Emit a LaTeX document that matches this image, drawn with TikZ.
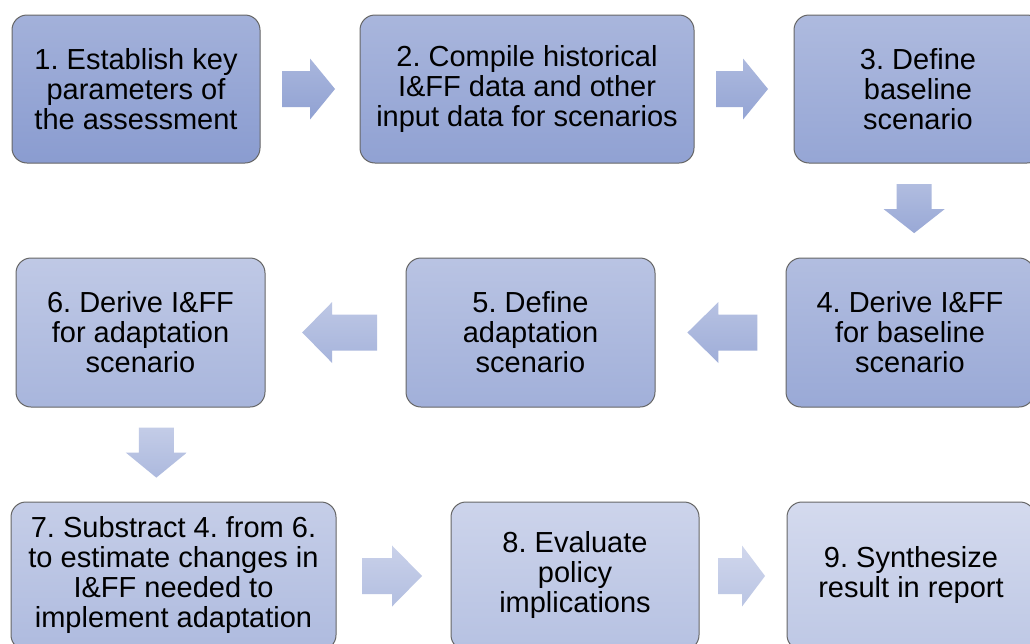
\documentclass[tikz,border=0pt]{standalone}
\usepackage{fontspec}
\setmainfont{Liberation Sans}
\frenchspacing
\usetikzlibrary{calc}

% gradient end points: darkest step (first) and lightest step (last)
\definecolor{darkTop}{HTML}{A3B1DA}
\definecolor{darkBot}{HTML}{8A9CD0}
\definecolor{lightTop}{HTML}{D4DAEE}
\definecolor{lightBot}{HTML}{BEC8E5}
\definecolor{boxline}{HTML}{666666}

\tikzset{
  x=1pt, y=-1pt,
  shadelevel/.style={top color=darkTop!#1!lightTop, bottom color=darkBot!#1!lightBot},
  steptext/.style={align=center, inner sep=0pt, font=\fontsize{29}{30}\selectfont},
  stepbox/.style={shadelevel=#1, draw=boxline, line width=1pt, rounded corners=15pt,
    steptext, minimum height=148pt},
  arrowfill/.style={shadelevel=#1, draw=none},
}

% horizontal block arrow between two anchors: from, to, fraction, direction (+1/-1), length, head length, shade
\newcommand\harrow[7]{%
  \path[arrowfill=#7] ($(#1)!#3!(#2)$) ++({-0.5*(#4)*(#5)},-18)
    -- ++({(#4)*((#5)-(#6))},0) -- ++(0,-12.5) -- ++({(#4)*(#6)},30.5)
    -- ++({-(#4)*(#6)},30.5) -- ++(0,-12.5) -- ++({-(#4)*((#5)-(#6))},0) -- cycle;
}
% downward block arrow between two anchors: from, to, fraction, length, head length, shade
\newcommand\varrow[6]{%
  \path[arrowfill=#6] ($(#1)!#3!(#2)$) ++(-17.5,{-0.5*(#4)})
    -- ++(0,{(#4)-(#5)}) -- ++(-13,0) -- ++(30.5,{#5})
    -- ++(30.5,{-(#5)}) -- ++(-13,0) -- ++(0,{(#5)-(#4)}) -- cycle;
}

\begin{document}
\begin{tikzpicture}
\clip (0,0) rectangle (1030,643);
\fill[white] (0,0) rectangle (1030,643);

% row 1
\node[stepbox=100, minimum width=248pt] (s1) at (136,89)
  {1. Establish key\\parameters of\\the assessment};
\node[stepbox=88, minimum width=334pt] (s2) at (527,89)
  {2. Compile historical\\I\&FF data and other\\input data for scenarios};
\node[stepbox=78, minimum width=248pt] (s3) at (918,89)
  {3. Define\\baseline\\scenario};

% row 2
\node[stepbox=70, minimum width=248pt, minimum height=149pt] (s4) at (910,332.5)
  {4. Derive I\&FF\\for baseline\\scenario};
\node[stepbox=55, minimum width=249pt, minimum height=149pt] (s5) at (530.5,332.5)
  {5. Define\\adaptation\\scenario};
\node[stepbox=42, minimum width=249pt, minimum height=149pt] (s6) at (140.5,332.5)
  {6. Derive I\&FF\\for adaptation\\scenario};

% row 3 (boxes run past the lower edge, text sits a little above their centre)
\node[stepbox=30, minimum width=325pt,
  label={[steptext, yshift=1.5pt]center:{7. Substract 4. from 6.\\to estimate changes in\\I\&FF needed to\\implement adaptation}}]
  (s7) at (173.5,576) {};
\node[stepbox=15, minimum width=248pt,
  label={[steptext, yshift=1.5pt]center:{8. Evaluate\\policy\\implications}}]
  (s8) at (575,576) {};
\node[stepbox=0, minimum width=248pt,
  label={[steptext, yshift=1.5pt]center:{9. Synthesize\\result in report}}]
  (s9) at (911,576) {};

% connectors
\harrow{s1.east}{s2.west}{0.485}{1}{53}{25}{88}
\harrow{s2.east}{s3.west}{0.48}{1}{52}{25}{80}
\varrow{s3.south}{s4.north}{0.48}{49}{24}{72}
\harrow{s4.west}{s5.east}{0.485}{-1}{70}{31}{60}
\harrow{s5.west}{s6.east}{0.47}{-1}{75}{30}{46}
\varrow{s6.south}{s7.north}{0.48}{50}{25}{34}
\harrow{s7.east}{s8.west}{0.487}{1}{60}{30}{22}
\harrow{s8.east}{s9.west}{0.483}{1}{47}{23}{8}
\end{tikzpicture}
\end{document}
